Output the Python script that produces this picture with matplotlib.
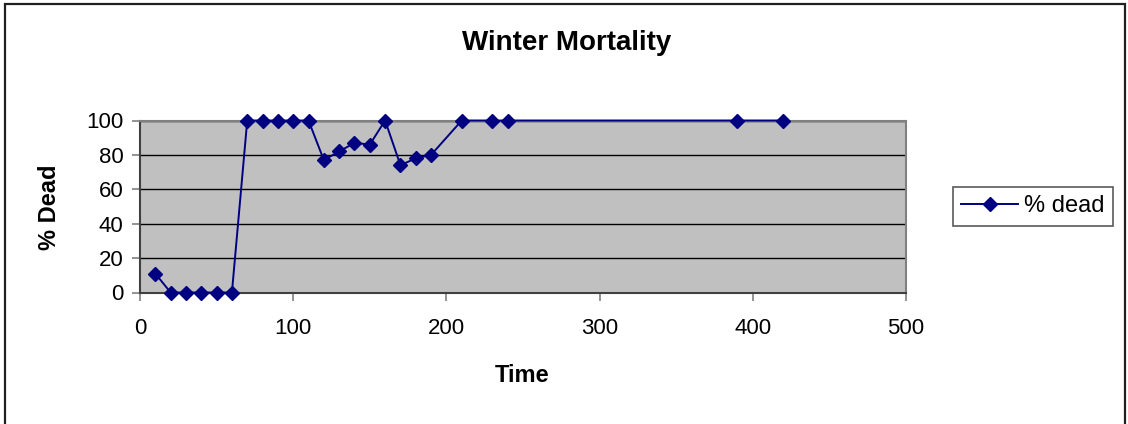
import matplotlib
matplotlib.use("Agg")
import matplotlib.pyplot as plt
from matplotlib.patches import Rectangle

time = [10, 20, 30, 40, 50, 60, 70, 80, 90, 100, 110, 120, 130, 140, 150, 160,
        170, 180, 190, 210, 230, 240, 390, 420]
pct_dead = [11, 0, 0, 0, 0, 0, 100, 100, 100, 100, 100, 77, 82, 87, 86, 100,
            74, 78, 80, 100, 100, 100, 100, 100]
x_ticks = [0, 100, 200, 300, 400, 500]
y_ticks = [0, 20, 40, 60, 80, 100]

plt.rcParams['font.family'] = ['Liberation Sans', 'DejaVu Sans']

W, H = 1128, 424
fig = plt.figure(figsize=(W / 100, H / 100), dpi=100)
fig.patch.set_facecolor('white')

# outer chart border (bottom edge lies outside the image)
fig.patches.append(Rectangle((5 / W, -0.05), (1125 - 5) / W, 1.05 - 4 / H,
                             transform=fig.transFigure, fill=False,
                             edgecolor='#202020', linewidth=1.6))

ax = fig.add_axes([140 / W, 1 - 292.5 / H, (906 - 140) / W, (292.5 - 120.5) / H])
ax.set_facecolor('#C0C0C0')
ax.set_xlim(0, 500)
ax.set_ylim(0, 100)
ax.set_xticks(x_ticks)
ax.set_yticks(y_ticks)
ax.yaxis.grid(True, color='black', linewidth=1.0)
ax.set_axisbelow(True)
for s in ax.spines.values():
    s.set_color('#808080')
    s.set_linewidth(1.5)
ax.spines['left'].set_color('#404040')
ax.spines['bottom'].set_color('#404040')
ax.tick_params(axis='both', direction='out', length=6, color='#808080',
               width=1.2, labelsize=16)
ax.tick_params(axis='y', pad=6)
ax.tick_params(axis='x', pad=12)

ax.plot(time, pct_dead, color='#000080', linewidth=1.4, marker='D',
        markersize=7, markerfacecolor='#000080', markeredgecolor='#000080',
        label='% dead', clip_on=False, zorder=5)

fig.text(567 / W, 1 - 43 / H, 'Winter Mortality', ha='center', va='center',
         fontsize=20, fontweight='bold')
fig.text(522 / W, 1 - 376 / H, 'Time', ha='center', va='center',
         fontsize=17, fontweight='bold')
fig.text(50 / W, 1 - 207 / H, '% Dead', ha='center', va='center',
         fontsize=17, fontweight='bold', rotation=90)

leg = ax.legend(loc='center left', bbox_to_anchor=(953 / W, 1 - 206.5 / H),
                bbox_transform=fig.transFigure, fontsize=17, frameon=True,
                fancybox=False, edgecolor='#303030', handlelength=2.4,
                borderpad=0.35, handletextpad=0.25, borderaxespad=0)
leg.get_frame().set_linewidth(1.2)

fig.savefig('out.png', dpi=100, facecolor='white')
